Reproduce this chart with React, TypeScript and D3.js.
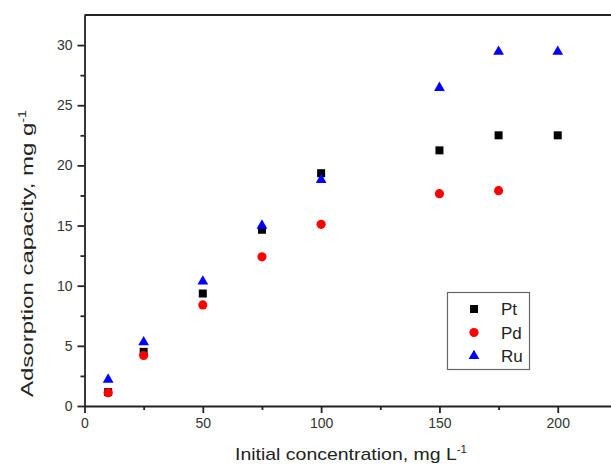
import React, { useEffect, useRef } from 'react';
import * as d3 from 'd3';

const concPt = [10, 25, 50, 75, 100, 150, 175, 200];
const valuesPt = [1.15, 4.5, 9.35, 14.65, 19.35, 21.25, 22.5, 22.5];
const concPd = [10, 25, 50, 75, 100, 150, 175];
const valuesPd = [1.1, 4.2, 8.4, 12.4, 15.1, 17.65, 17.9];
const concRu = [10, 25, 50, 75, 100, 150, 175, 200];
const valuesRu = [2.2, 5.3, 10.35, 15.0, 18.8, 26.45, 29.45, 29.45];
const xTicks = [0, 50, 100, 150, 200];
const yTicks = [0, 5, 10, 15, 20, 25, 30];

const W = 611;
const H = 465;
const FONT = '"Liberation Sans", Arial, sans-serif';

const App = () => {
    const ref = useRef<SVGSVGElement>(null);

    useEffect(() => {
        const svg = d3.select(ref.current);
        svg.selectAll('*').remove();

        const left = 84.5, top = 15, bottom = 406;
        const x = d3.scaleLinear().domain([0, 225]).range([left, left + 532.4]);
        const y = d3.scaleLinear().domain([0, 32.5]).range([bottom, top]);

        svg.append('rect').attr('width', W).attr('height', H).attr('fill', '#fff');

        // minor ticks
        const xMinor = d3.range(25, 225, 50);
        const yMinor = d3.range(2.5, 32.5, 5);

        svg.append('g')
            .attr('transform', `translate(0,${bottom})`)
            .call(d3.axisBottom(x).tickValues(xTicks).tickSize(7).tickSizeOuter(0).tickPadding(5).tickFormat(d3.format('d')));
        svg.append('g')
            .attr('transform', `translate(0,${bottom})`)
            .call(d3.axisBottom(x).tickValues(xMinor).tickSize(4).tickSizeOuter(0).tickFormat(() => ''))
            .call(g => g.select('.domain').remove());

        svg.append('g')
            .attr('transform', `translate(${left},0)`)
            .call(d3.axisLeft(y).tickValues(yTicks).tickSize(7).tickSizeOuter(0).tickPadding(5).tickFormat(d3.format('d')));
        svg.append('g')
            .attr('transform', `translate(${left},0)`)
            .call(d3.axisLeft(y).tickValues(yMinor).tickSize(4).tickSizeOuter(0).tickFormat(() => ''))
            .call(g => g.select('.domain').remove());

        // top frame line
        svg.append('line')
            .attr('x1', left).attr('x2', W)
            .attr('y1', top).attr('y2', top)
            .attr('stroke', '#222').attr('stroke-width', 2);

        svg.selectAll('.domain, .tick line').attr('stroke', '#222').attr('stroke-width', 1.8);
        svg.selectAll('.tick text')
            .attr('font-family', FONT).attr('font-size', 14).attr('fill', '#333');

        // axis titles (stretched along their length like the original)
        const xt = svg.append('text')
            .attr('x', 235).attr('y', 460)
            .attr('textLength', 232).attr('lengthAdjust', 'spacingAndGlyphs')
            .attr('font-family', FONT).attr('font-size', 17).attr('fill', '#222');
        xt.append('tspan').text('Initial concentration, mg L');
        xt.append('tspan').attr('dy', -7).attr('font-size', 10).text('-1');

        const yt = svg.append('text')
            .attr('transform', 'translate(33,253.5) rotate(-90)')
            .attr('text-anchor', 'middle')
            .attr('textLength', 287).attr('lengthAdjust', 'spacingAndGlyphs')
            .attr('font-family', FONT).attr('font-size', 17).attr('fill', '#222');
        yt.append('tspan').text('Adsorption capacity, mg g');
        yt.append('tspan').attr('dy', -7).attr('font-size', 10).text('-1');

        const series = [
            { name: 'Pt', xs: concPt, ys: valuesPt, color: '#000000', type: d3.symbolSquare, size: 64 },
            { name: 'Pd', xs: concPd, ys: valuesPd, color: '#ff0000', type: d3.symbolCircle, size: 66 },
            { name: 'Ru', xs: concRu, ys: valuesRu, color: '#0000ff', type: d3.symbolTriangle, size: 50 },
        ];

        series.forEach(s => {
            const sym = d3.symbol().type(s.type).size(s.size);
            svg.append('g').selectAll('path')
                .data(s.xs.map((c, i) => ({ c, v: s.ys[i] })))
                .enter().append('path')
                .attr('d', sym)
                .attr('transform', d => `translate(${x(d.c)},${y(d.v)})`)
                .attr('fill', s.color);
        });

        // legend
        const lg = svg.append('g');
        lg.append('rect')
            .attr('x', 447.5).attr('y', 292.5).attr('width', 82).attr('height', 77)
            .attr('fill', '#fff').attr('stroke', '#666').attr('stroke-width', 1.2);
        series.forEach((s, i) => {
            const cy = 309 + i * 23.5;
            lg.append('path')
                .attr('d', d3.symbol().type(s.type).size(s.size)())
                .attr('transform', `translate(474,${cy})`)
                .attr('fill', s.color);
            lg.append('text')
                .attr('x', 501).attr('y', cy + 6)
                .attr('font-family', FONT).attr('font-size', 17).attr('fill', '#222')
                .text(s.name);
        });
    }, []);

    return (
        <svg ref={ref} width={W} height={H}
            style={{ position: 'absolute', left: 0, top: 0, display: 'block' }} />
    );
};

export default App;
